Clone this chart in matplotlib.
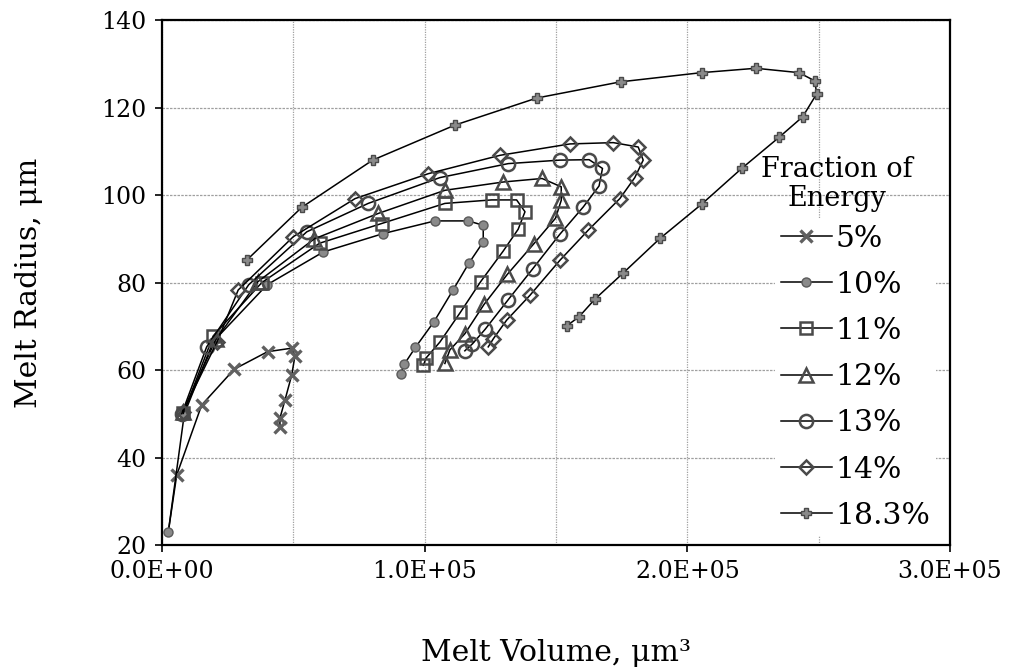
import matplotlib
matplotlib.use('Agg')
import matplotlib.pyplot as plt
from matplotlib.ticker import MultipleLocator, FuncFormatter

plt.rcParams['font.family'] = ['DejaVu Serif']

# melt volume (um^3) and melt radius (um) for each fraction of energy
v_5 = [2.4e3, 5.6e3, 15.1e3, 27.5e3, 40.2e3, 49.4e3, 50.6e3, 49.4e3, 46.8e3, 44.9e3, 44.9e3]
r_5 = [23, 36, 52, 60.2, 64.2, 65, 63.2, 58.9, 53.1, 49, 47]

v_10 = [2.4e3, 8.5e3, 19.5e3, 40e3, 61.4e3, 84.2e3, 103.9e3, 116.6e3, 122.3e3, 122.3e3,
        116.8e3, 110.8e3, 103.6e3, 96.5e3, 92.2e3, 90.9e3]
r_10 = [23, 50, 66.5, 79.5, 87, 91.2, 94.1, 94.1, 93.1, 89.3, 84.4, 78.3, 71.1, 65.2, 61.3, 59.2]

v_11 = [8.1e3, 19.5e3, 38e3, 60e3, 83.6e3, 107.7e3, 125.5e3, 135e3, 138.2e3,
        135.6e3, 129.9e3, 121.3e3, 113.6e3, 105.8e3, 100.6e3, 99.5e3]
r_11 = [50.1, 67.8, 80, 89, 93.5, 98.1, 98.9, 98.9, 96.2, 92.2, 87.2, 80.2, 73.2, 66.4, 62.8, 61.1]

v_12 = [8e3, 20.5e3, 36.5e3, 58e3, 82.3e3, 107.7e3, 130e3, 144.7e3, 152e3, 152e3,
        149.8e3, 141.6e3, 131.5e3, 122.6e3, 115.3e3, 109.6e3, 107.7e3]
r_12 = [50.5, 67, 80.2, 90, 95.8, 101.1, 103, 103.8, 101.9, 98.8, 94.7, 88.9, 81.9, 75, 68.3, 64.6, 61.5]

v_13 = [7.5e3, 17e3, 33e3, 55.1e3, 78.5e3, 105.8e3, 131.8e3, 151.5e3, 162.6e3,
        167.7e3, 166.4e3, 160.4e3, 151.4e3, 141.2e3, 131.7e3, 123e3, 118.2e3, 115.3e3]
r_13 = [50, 65.3, 79.5, 91.6, 98.1, 104, 107.2, 108, 108.1, 106.1, 102.1, 97.3, 91,
        83.2, 76, 69.3, 66, 64.4]

v_14 = [8e3, 21e3, 29e3, 50e3, 73.5e3, 101.4e3, 128.7e3, 155.3e3, 171.8e3, 181.3e3,
        183.2e3, 180e3, 174.3e3, 162.3e3, 151.5e3, 140.1e3, 131.2e3, 126.2e3, 124.2e3]
r_14 = [50.5, 66.5, 78.3, 90.5, 99.2, 104.9, 109.1, 111.7, 112, 111, 108, 104, 99.2,
        92, 85.1, 77.1, 71.4, 67.2, 65.3]

v_183 = [32.2e3, 53.2e3, 80.2e3, 111.5e3, 142.7e3, 174.6e3, 205.4e3, 226.1e3, 242.5e3,
         248.6e3, 249.2e3, 243.9e3, 234.9e3, 220.7e3, 205.4e3, 189.6e3, 175.6e3, 164.8e3,
         158.8e3, 154.1e3]
r_183 = [85.1, 97.2, 108, 116, 122.2, 125.9, 128, 129, 128, 126.1, 123.1, 117.9, 113.2,
         106.1, 97.9, 90.1, 82.2, 76.2, 72.2, 70.1]

labels = ['5%', '10%', '11%', '12%', '13%', '14%', '18.3%']

fig = plt.figure(figsize=(10.17, 6.72), dpi=100)
ax = fig.add_axes([0.1593, 0.189, 0.7748, 0.781])

edge = '#4a4a4a'
fill = '#8a8a8a'
# marker styles per series (hollow shapes like the original)
styles = [
    dict(marker='x', ms=9, mew=2.4, mec='#606060', markevery=slice(1, None)),
    dict(marker='o', ms=6.5, mfc=fill, mec='#5a5a5a', mew=1),
    dict(marker='s', ms=8.5, mfc='none', mec=edge, mew=1.8),
    dict(marker='^', ms=9.5, mfc='none', mec=edge, mew=1.8),
    dict(marker='o', ms=9.5, mfc='none', mec=edge, mew=1.8),
    dict(marker='D', ms=7, mfc='none', mec=edge, mew=1.8),
    dict(marker='P', ms=7.5, mfc=fill, mec=edge, mew=1),
]
series = [(v_5, r_5), (v_10, r_10), (v_11, r_11), (v_12, r_12),
          (v_13, r_13), (v_14, r_14), (v_183, r_183)]

for (vx, ry), lab, st in zip(series, labels, styles):
    ax.plot(vx, ry, color='black', lw=1.1, label=lab, **st)

ax.set_xlim(0, 3e5)
ax.set_ylim(20, 140)
ax.xaxis.set_major_locator(MultipleLocator(1e5))
ax.xaxis.set_minor_locator(MultipleLocator(0.5e5))
ax.yaxis.set_major_locator(MultipleLocator(20))
ax.xaxis.set_major_formatter(FuncFormatter(lambda v, p: f'{v:.1E}'))

# dotted grey grid, vertical lines every 0.5E+05
ax.grid(True, which='both', axis='x', color='#a0a0a0', lw=0.9, linestyle=(0, (1, 1)))
ax.grid(True, which='major', axis='y', color='#a0a0a0', lw=0.9, linestyle=(0, (2, 1)))
ax.set_axisbelow(True)
ax.tick_params(axis='x', which='minor', length=0)
ax.tick_params(which='major', direction='out', length=5, width=1.2, labelsize=17,
               color='black', pad=6)
for s in ax.spines.values():
    s.set_linewidth(1.6)
    s.set_color('black')

ax.set_xlabel('Melt Volume, μm³', fontsize=21.5, labelpad=40)
ax.set_ylabel('Melt Radius, μm', fontsize=21.5, labelpad=42)

leg = ax.legend(loc='upper left', bbox_to_anchor=(0.778, 0.622), fontsize=21.5,
                frameon=True, fancybox=False, edgecolor='none', facecolor='white',
                framealpha=1, borderaxespad=0, borderpad=0.2, labelspacing=0.61,
                handlelength=1.7, handletextpad=0.12)
ax.text(0.857, 0.688, 'Fraction of\nEnergy', transform=ax.transAxes, fontsize=19.5,
        ha='center', va='center', linespacing=1.12)

plt.savefig('out.png', dpi=100)
plt.close()
